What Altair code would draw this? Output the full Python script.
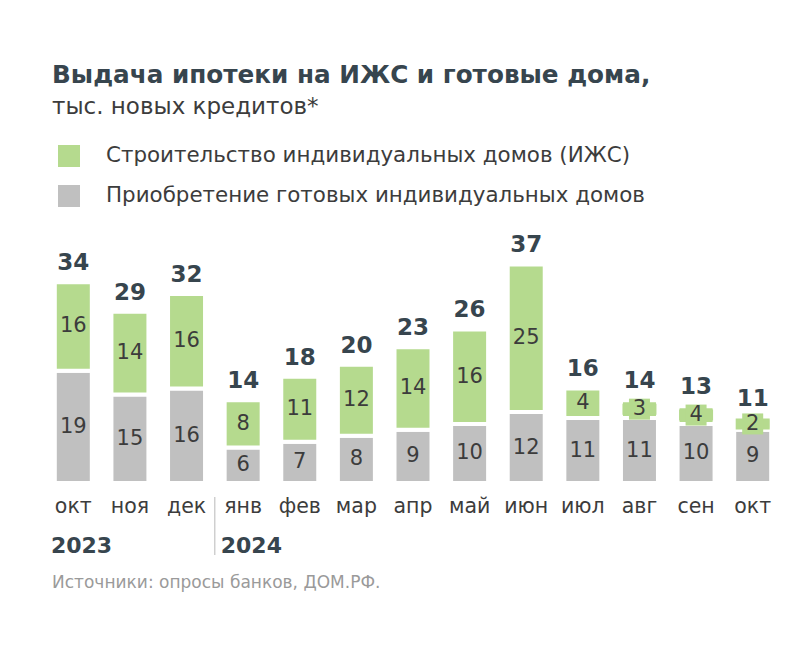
import altair as alt
import pandas as pd

months = ["окт", "ноя", "дек", "янв", "фев", "мар", "апр", "май", "июн", "июл", "авг", "сен", "окт"]
years = ["2023", "2023", "2023", "2024", "2024", "2024", "2024", "2024", "2024", "2024", "2024", "2024", "2024"]
izhs = [16, 14, 16, 8, 11, 12, 14, 16, 25, 4, 3, 4, 2]
ready = [19, 15, 16, 6, 7, 8, 9, 10, 12, 11, 11, 10, 9]
totals = [34, 29, 32, 14, 18, 20, 23, 26, 37, 16, 14, 13, 11]

series_izhs = "Строительство индивидуальных домов (ИЖС)"
series_ready = "Приобретение готовых индивидуальных домов"
year_labels = ["2023", "2024"]
year_start_keys = ["окт|2023", "янв|2024"]
source = "Источники: опросы банков, ДОМ.РФ."

keys = [f"{m}|{y}" for m, y in zip(months, years)]

rows = []
for k, g, r, t in zip(keys, izhs, ready, totals):
    rows.append({"key": k, "series": series_ready, "y0": 0, "y1": r, "label": r, "mid": r / 2, "seg": r})
    rows.append({"key": k, "series": series_izhs, "y0": r, "y1": t, "label": g, "mid": (r + t) / 2, "seg": t - r})
bars = pd.DataFrame(rows)
tot = pd.DataFrame({"key": keys, "total": totals})
yrs = pd.DataFrame({"key": year_start_keys, "year": year_labels})
src = pd.DataFrame({"t": [source]})

GREEN = "#b5da8e"
GREY = "#c0c0c0"
DARK = "#37454e"
TXT = "#3c3c3c"
FONT = "DejaVu Sans"
H = 228
W = 736

xenc = alt.X("key:N", sort=keys,
             scale=alt.Scale(paddingInner=0.42, paddingOuter=0.21),
             axis=alt.Axis(title=None, labelExpr="split(datum.value, '|')[0]",
                           labelAngle=0, labelFontSize=20.5, labelColor=TXT, labelFont=FONT,
                           domain=False, ticks=False, labelPadding=13))
yscale = alt.Scale(domain=[0, 38.6], nice=False)

bar = alt.Chart(bars).mark_bar(size=37, stroke="white", strokeWidth=4).encode(
    x=xenc,
    y=alt.Y("y0:Q", scale=yscale, axis=None),
    y2="y1:Q",
    color=alt.Color("series:N",
                    scale=alt.Scale(domain=[series_izhs, series_ready], range=[GREEN, GREY]),
                    legend=alt.Legend(title=None, orient="none", legendX=13, legendY=-110,
                                      symbolType="square", symbolSize=484, symbolStrokeWidth=0,
                                      labelFontSize=21.4, labelColor=TXT, labelFont=FONT,
                                      labelOffset=26, rowPadding=18, labelLimit=700)),
)

halo_filter = (alt.datum.series == series_izhs) & (alt.datum.seg <= 3)
halo_wide = alt.Chart(bars).transform_filter(halo_filter).mark_tick(
    orient="horizontal", size=34, thickness=11, color=GREEN, opacity=1).encode(
    x=alt.X("key:N", sort=keys), y=alt.Y("mid:Q", scale=yscale)
)
halo_tall = alt.Chart(bars).transform_filter(halo_filter).mark_tick(
    orient="horizontal", size=21, thickness=21, color=GREEN, opacity=1).encode(
    x=alt.X("key:N", sort=keys), y=alt.Y("mid:Q", scale=yscale)
)

seg_text = alt.Chart(bars).mark_text(fontSize=21, color=TXT, font=FONT, baseline="middle").encode(
    x=alt.X("key:N", sort=keys), y=alt.Y("mid:Q", scale=yscale), text="label:Q"
)

tot_text = alt.Chart(tot).mark_text(fontSize=23, fontWeight="bold", color=DARK, font=FONT,
                                    baseline="bottom", dy=-7).encode(
    x=alt.X("key:N", sort=keys), y=alt.Y("total:Q", scale=yscale), text="total:Q"
)

year_text = alt.Chart(yrs).mark_text(fontSize=22, fontWeight="bold", color=DARK, font=FONT,
                                     align="left", baseline="middle", dx=-6).encode(
    x=alt.X("key:N", sort=keys, bandPosition=0), y=alt.value(H + 63), text="year:N"
)

sep = alt.Chart(yrs).transform_filter(alt.datum.year == "2024").mark_rule(
    color="#cfcfcf", strokeWidth=1.5, xOffset=-12).encode(
    x=alt.X("key:N", sort=keys, bandPosition=0), y=alt.value(H + 14), y2=alt.value(H + 72)
)

src_text = alt.Chart(src).mark_text(fontSize=17, color="#9a9a9a", font=FONT, align="left",
                                    baseline="middle").encode(
    x=alt.value(7), y=alt.value(H + 100), text="t:N"
)

chart = alt.layer(bar, halo_wide, halo_tall, seg_text, tot_text, year_text, sep, src_text).properties(
    width=W, height=H,
    autosize=alt.AutoSizeParams(type="none"),
    padding={"left": 37, "top": 247, "right": 10, "bottom": 120},
    background="white",
    title=alt.TitleParams(
        "Выдача ипотеки на ИЖС и готовые дома,",
        subtitle="тыс. новых кредитов*",
        anchor="start", frame="group", dx=7, offset=26,
        font=FONT, fontSize=24.7, fontWeight="bold", color=DARK,
        subtitleFont=FONT, subtitleFontSize=23, subtitleColor=TXT, subtitlePadding=8,
    ),
).configure_view(stroke=None)

chart.save("out.html", embed_options={"renderer": "svg", "actions": False})
